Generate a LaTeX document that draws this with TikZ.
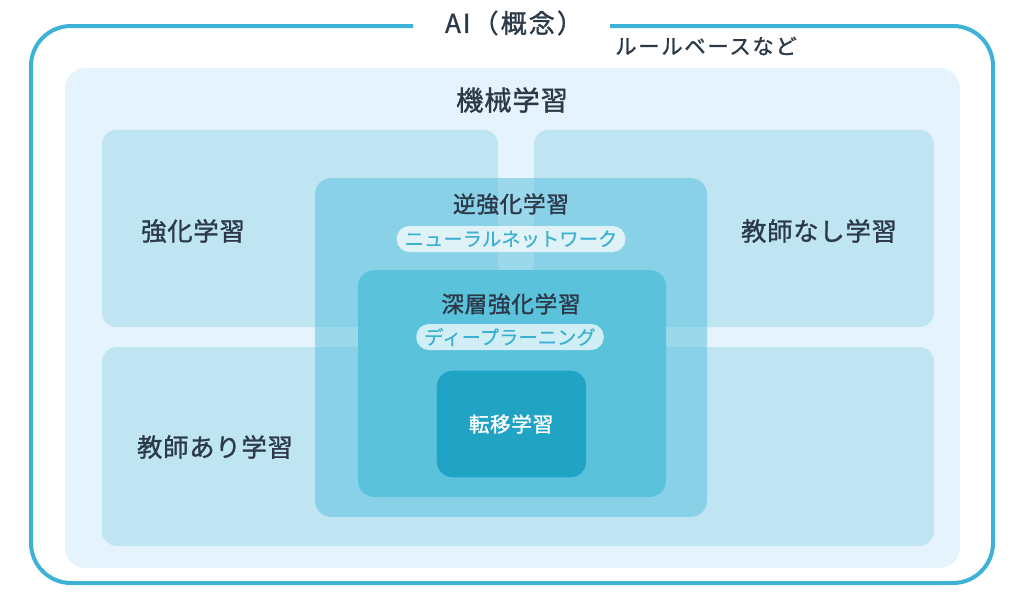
\documentclass[tikz,border=0pt]{standalone}
\usepackage{fontspec}
\setmainfont{Noto Sans CJK JP}
\newfontfamily\medfont[FakeBold=1.2,LetterSpace=3]{Noto Sans CJK JP}
\newfontfamily\widefont[FakeBold=1.2,LetterSpace=8]{Noto Sans CJK JP}
\newfontfamily\pillfont[FakeBold=0.4]{Noto Sans CJK JP}
\definecolor{frame}{RGB}{61,178,214}
\definecolor{mlbg}{RGB}{229,243,252}
\definecolor{quad}{RGB}{191,229,243}
\definecolor{irl}{RGB}{85,190,220}
\definecolor{drl}{RGB}{91,194,220}
\definecolor{tl}{RGB}{33,163,196}
\definecolor{txt}{RGB}{43,57,72}
\definecolor{pilltxt}{RGB}{59,176,208}
\begin{document}
\begin{tikzpicture}[x=0.75pt,y=-0.75pt,
  box/.style={inner sep=0pt,outer sep=0pt,draw=none},
  lbl/.style={text=txt,inner sep=0pt,font=\medfont\fontsize{19}{22}\selectfont},
  sublbl/.style={text=txt,inner sep=0pt,font=\medfont\fontsize{17}{20}\selectfont},
  pill/.style={fill=white,fill opacity=0.72,text opacity=1,text=pilltxt,rounded corners=9.5pt,
    minimum height=19.5pt,inner xsep=6pt,inner ysep=0pt,font=\pillfont\fontsize{14.5}{17}\selectfont}]
\useasboundingbox (0,0) rectangle (1024,597);
% outer frame with gap
\coordinate (gl) at (413,26);
\coordinate (gr) at (610,26);
\draw[frame,line width=3pt,rounded corners=30pt] (gl) -- (31,26) -- (31,583) -- (993,583) -- (993,26) -- (gr);
\node[text=txt,inner sep=0pt,font=\widefont\fontsize{19.5}{22}\selectfont] (ai) at (514,23) {AI（概念）};
\node[text=txt,inner sep=0pt,font=\widefont\fontsize{16}{19}\selectfont,anchor=west] (rule) at (615,46) {ルールベースなど};
% machine learning
\node[box,fill=mlbg,rounded corners=15pt,minimum width=671pt,minimum height=375pt] (ml) at (512.5,318) {};
\node[lbl,font=\medfont\fontsize{20.5}{24}\selectfont] (mlt) at (512,100) {機械学習};
% quadrants
\node[box,fill=quad,rounded corners=11pt,minimum width=297pt,minimum height=148pt] (q1) at (300,228.5) {};
\node[box,fill=quad,rounded corners=11pt,minimum width=300pt,minimum height=148pt] (q2) at (734,228.5) {};
\node[box,fill=quad,rounded corners=11pt,minimum width=624pt,minimum height=149pt] (q3) at (518,446.5) {};
\node[lbl] (rl) at (193,231) {強化学習};
\node[lbl] (ul) at (819,231) {教師なし学習};
\node[lbl] (sl) at (215,447) {教師あり学習};
% inverse RL
\node[box,fill=irl,fill opacity=0.5,rounded corners=12pt,minimum width=294pt,minimum height=254pt] (irlb) at (511,347.5) {};
\node[sublbl] (irlt) at (511,204) {逆強化学習};
\node[pill] (nn) at (511,239) {ニューラルネットワーク};
% deep RL
\node[box,fill=drl,rounded corners=12pt,minimum width=231pt,minimum height=170pt] (drlb) at (512,383.5) {};
\node[sublbl] (drlt) at (511,304) {深層強化学習};
\node[pill] (dl) at (510,337) {ディープラーニング};
% transfer learning
\node[box,fill=tl,rounded corners=12pt,minimum width=112pt,minimum height=80pt] (tlb) at (511.5,424) {};
\node[text=white,inner sep=0pt,font=\medfont\fontsize{15.5}{18}\selectfont] (tlt) at (511,424) {転移学習};
\end{tikzpicture}
\end{document}
